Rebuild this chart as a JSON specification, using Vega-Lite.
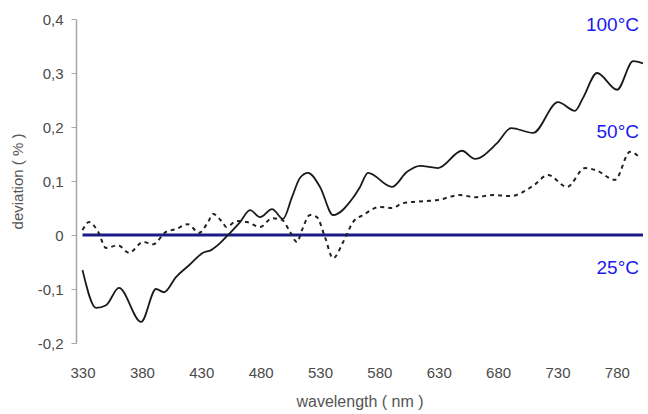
{
  "$schema": "https://vega.github.io/schema/vega-lite/v6.json",
  "width": 567,
  "height": 324,
  "autosize": "none",
  "padding": {"left": 76, "top": 19, "right": 5, "bottom": 71},
  "background": "white",
  "config": {
    "view": {"stroke": null},
    "font": "Liberation Sans",
    "axis": {"labelFont": "Liberation Sans", "titleFont": "Liberation Sans", "labelColor": "#4a4a4a", "titleColor": "#555555", "titleFontWeight": "normal", "grid": false}
  },
  "datasets": {
    "t100": [
      {"wl": 330, "dev": -0.065}, {"wl": 341.4, "dev": -0.135}, {"wl": 349.8, "dev": -0.130}, {"wl": 360.7, "dev": -0.098},
      {"wl": 379.3, "dev": -0.161}, {"wl": 391.9, "dev": -0.100}, {"wl": 398.6, "dev": -0.106}, {"wl": 408.7, "dev": -0.078},
      {"wl": 419.7, "dev": -0.056}, {"wl": 431.5, "dev": -0.033}, {"wl": 438.2, "dev": -0.028}, {"wl": 445.8, "dev": -0.015},
      {"wl": 452.5, "dev": 0.0}, {"wl": 462.7, "dev": 0.024}, {"wl": 471.1, "dev": 0.046}, {"wl": 479.5, "dev": 0.033},
      {"wl": 489.6, "dev": 0.048}, {"wl": 498.9, "dev": 0.030}, {"wl": 506.4, "dev": 0.070}, {"wl": 513.2, "dev": 0.106},
      {"wl": 519.9, "dev": 0.115}, {"wl": 530, "dev": 0.089}, {"wl": 541, "dev": 0.037}, {"wl": 557.8, "dev": 0.069},
      {"wl": 563.7, "dev": 0.089}, {"wl": 570.4, "dev": 0.115}, {"wl": 590.6, "dev": 0.089}, {"wl": 603.3, "dev": 0.117},
      {"wl": 614.2, "dev": 0.128}, {"wl": 629.4, "dev": 0.124}, {"wl": 649.6, "dev": 0.156}, {"wl": 660.5, "dev": 0.141},
      {"wl": 679.1, "dev": 0.170}, {"wl": 691, "dev": 0.198}, {"wl": 709.4, "dev": 0.189}, {"wl": 730.4, "dev": 0.246},
      {"wl": 744.8, "dev": 0.230}, {"wl": 751.5, "dev": 0.254}, {"wl": 763.3, "dev": 0.300}, {"wl": 780.2, "dev": 0.269},
      {"wl": 793.7, "dev": 0.322}, {"wl": 802, "dev": 0.318}
    ],
    "t50": [
      {"wl": 330, "dev": 0.009}, {"wl": 335.5, "dev": 0.024}, {"wl": 343.1, "dev": 0.006}, {"wl": 349.8, "dev": -0.024},
      {"wl": 359.9, "dev": -0.019}, {"wl": 369.2, "dev": -0.033}, {"wl": 381, "dev": -0.013}, {"wl": 389.4, "dev": -0.017},
      {"wl": 400.3, "dev": 0.006}, {"wl": 408.7, "dev": 0.011}, {"wl": 418.8, "dev": 0.020}, {"wl": 428.1, "dev": 0.004},
      {"wl": 435.7, "dev": 0.024}, {"wl": 439.9, "dev": 0.039}, {"wl": 448.3, "dev": 0.022}, {"wl": 451, "dev": 0.015},
      {"wl": 460.1, "dev": 0.026}, {"wl": 468.5, "dev": 0.024}, {"wl": 479.5, "dev": 0.015}, {"wl": 489.6, "dev": 0.031},
      {"wl": 498, "dev": 0.028}, {"wl": 504.7, "dev": 0.006}, {"wl": 510.6, "dev": -0.013}, {"wl": 514.8, "dev": 0.009},
      {"wl": 521.6, "dev": 0.037}, {"wl": 527.4, "dev": 0.033}, {"wl": 534.2, "dev": -0.004}, {"wl": 541, "dev": -0.043},
      {"wl": 549.5, "dev": -0.013}, {"wl": 557.8, "dev": 0.024}, {"wl": 566.3, "dev": 0.037}, {"wl": 580.5, "dev": 0.052},
      {"wl": 590.6, "dev": 0.050}, {"wl": 599.9, "dev": 0.059}, {"wl": 620.1, "dev": 0.063}, {"wl": 629.4, "dev": 0.065},
      {"wl": 647.9, "dev": 0.074}, {"wl": 660.5, "dev": 0.070}, {"wl": 675.7, "dev": 0.074}, {"wl": 690, "dev": 0.072},
      {"wl": 709.4, "dev": 0.091}, {"wl": 722, "dev": 0.111}, {"wl": 738, "dev": 0.089}, {"wl": 753.2, "dev": 0.124},
      {"wl": 763.3, "dev": 0.119}, {"wl": 778.4, "dev": 0.102}, {"wl": 791.1, "dev": 0.154}, {"wl": 799.5, "dev": 0.143}
    ],
    "t25": [{"wl": 330, "dev": 0}, {"wl": 802, "dev": 0}],
    "labels": [
      {"wl": 802, "dev": 0.389, "label": "100°C"},
      {"wl": 802, "dev": 0.191, "label": "50°C"},
      {"wl": 802, "dev": -0.061, "label": "25°C"}
    ]
  },
  "encoding": {
    "x": {
      "field": "wl", "type": "quantitative",
      "scale": {"domain": [324.5, 802], "nice": false, "zero": false},
      "axis": {
        "title": "wavelength ( nm )", "values": [330, 380, 430, 480, 530, 580, 630, 680, 730, 780],
        "domain": false, "ticks": false, "labelPadding": 22, "labelFontSize": 15, "titleFontSize": 16,
        "titlePadding": 13, "labelFlush": false, "format": "d"
      }
    },
    "y": {
      "field": "dev", "type": "quantitative",
      "scale": {"domain": [-0.2, 0.4], "nice": false},
      "axis": {
        "title": "deviation ( % )", "values": [-0.2, -0.1, 0, 0.1, 0.2, 0.3, 0.4],
        "labelExpr": "datum.value == 0 ? '0' : (datum.value < 0 ? '-' : '') + replace(format(abs(datum.value), '.1f'), '.', ',')",
        "domain": true, "domainColor": "#a6a6a6", "domainWidth": 1.5, "tickColor": "#a6a6a6", "tickSize": 5,
        "labelPadding": 8, "labelFontSize": 15, "titleFontSize": 15, "titlePadding": 12
      }
    }
  },
  "layer": [
    {"data": {"name": "t25"}, "mark": {"type": "line", "color": "#1b1b86", "strokeWidth": 3}},
    {"data": {"name": "t50"}, "mark": {"type": "line", "color": "#222222", "strokeWidth": 2, "strokeDash": [4, 4], "interpolate": "monotone"}},
    {"data": {"name": "t100"}, "mark": {"type": "line", "color": "#1a1a1a", "strokeWidth": 1.8, "interpolate": "monotone"}},
    {"data": {"name": "labels"}, "mark": {"type": "text", "align": "right", "baseline": "middle", "dx": -4, "fontSize": 19, "color": "#1a1aee", "font": "Liberation Sans"},
     "encoding": {"text": {"field": "label"}}}
  ]
}
